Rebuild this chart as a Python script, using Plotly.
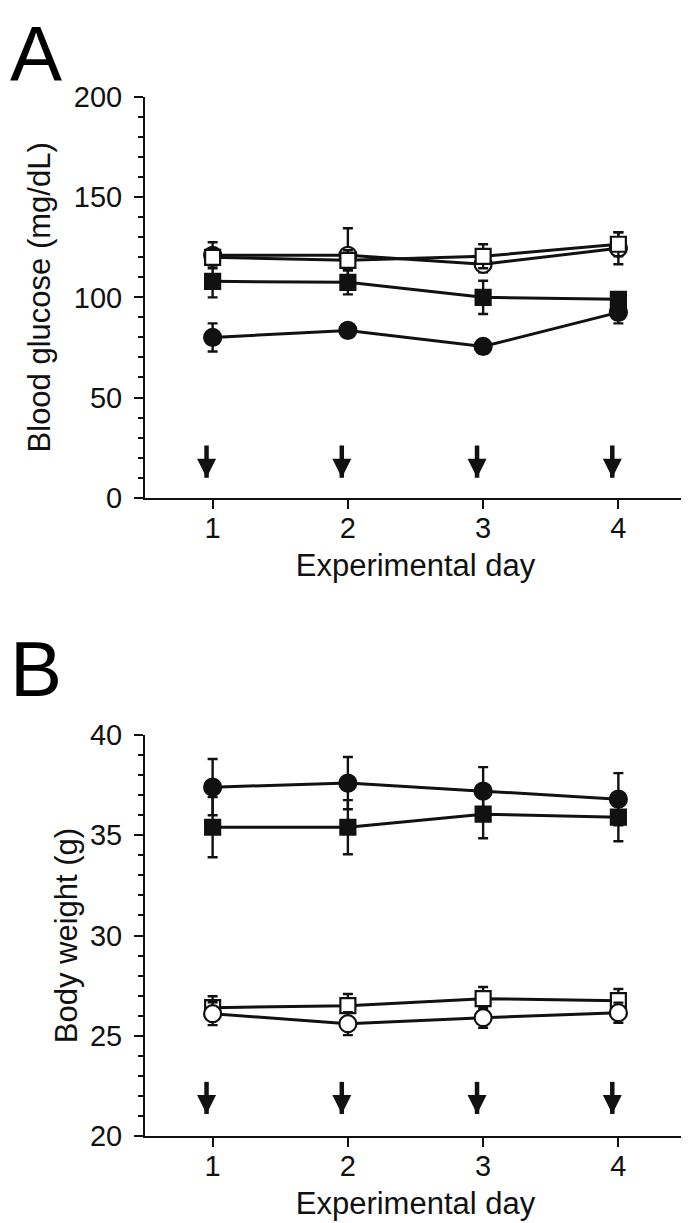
import plotly.graph_objects as go
from plotly.subplots import make_subplots

# experimental days
days = [1, 2, 3, 4]

# A - blood glucose (mg/dL), mean and SE
glu_filled_circle = [80, 83.5, 75.5, 92.5]
glu_filled_circle_se = [7, 3, 3.5, 5.5]
glu_filled_square = [108, 107.5, 100, 99]
glu_filled_square_se = [8, 6, 8.3, 2]
glu_open_circle = [121, 121, 116.5, 124.5]
glu_open_circle_se = [6.5, 13.5, 4, 8]
glu_open_square = [120, 118.5, 120.5, 126.5]
glu_open_square_se = [4, 5, 6, 6]

# B - body weight (g), mean and SE
bw_filled_circle = [37.4, 37.6, 37.2, 36.8]
bw_filled_circle_se = [1.4, 1.3, 1.2, 1.3]
bw_filled_square = [35.4, 35.4, 36.05, 35.9]
bw_filled_square_se = [1.5, 1.35, 1.2, 1.2]
bw_open_square = [26.4, 26.5, 26.85, 26.75]
bw_open_square_se = [0.57, 0.58, 0.58, 0.58]
bw_open_circle = [26.1, 25.6, 25.9, 26.15]
bw_open_circle_se = [0.57, 0.57, 0.5, 0.5]

# injection arrows (day, top of shaft, tip)
arrow_days = [0.955, 1.955, 2.955, 3.955]
glu_arrow_top = [26, 26, 26, 26]
glu_arrow_tip = [10, 10, 10, 10]
bw_arrow_top = [22.7, 22.7, 22.7, 22.7]
bw_arrow_tip = [21.1, 21.1, 21.1, 21.1]

INK = "#111111"
FONT = "Liberation Sans, Arial, sans-serif"

fig = make_subplots(rows=2, cols=1)


def add_series(row, y, se, symbol, filled):
    fig.add_trace(go.Scatter(
        x=days, y=y,
        mode="lines+markers",
        line=dict(color=INK, width=3),
        marker=dict(symbol=symbol, size=17 if "circle" in symbol else 15,
                    color=INK if filled else "white",
                    line=dict(color=INK, width=2.2)),
        error_y=dict(type="data", array=se, visible=True,
                     color=INK, thickness=2.4, width=5),
        showlegend=False), row=row, col=1)


def add_arrows(row, top, tip):
    xs, ys = [], []
    for d, t0, t1 in zip(arrow_days, top, tip):
        xs += [d, d, None]
        ys += [t0, t1, None]
    fig.add_trace(go.Scatter(
        x=xs, y=ys, mode="lines",
        line=dict(color=INK, width=4.5),
        showlegend=False, hoverinfo="skip"), row=row, col=1)
    fig.add_trace(go.Scatter(
        x=arrow_days, y=tip, mode="markers",
        marker=dict(symbol="arrow-down", size=19, color=INK,
                    line=dict(width=0)),
        showlegend=False, hoverinfo="skip"), row=row, col=1)


add_arrows(1, glu_arrow_top, glu_arrow_tip)
add_series(1, glu_filled_circle, glu_filled_circle_se, "circle", True)
add_series(1, glu_filled_square, glu_filled_square_se, "square", True)
add_series(1, glu_open_circle, glu_open_circle_se, "circle", False)
add_series(1, glu_open_square, glu_open_square_se, "square", False)

add_arrows(2, bw_arrow_top, bw_arrow_tip)
add_series(2, bw_filled_circle, bw_filled_circle_se, "circle", True)
add_series(2, bw_filled_square, bw_filled_square_se, "square", True)
add_series(2, bw_open_square, bw_open_square_se, "square", False)
add_series(2, bw_open_circle, bw_open_circle_se, "circle", False)

# page has an 8px body margin, so the figure is a bit smaller and shifted
W = 681.0
H = 1215.0
OFF = 8
xdom = [(145 - OFF) / W, (686 - OFF) / W]

fig.update_xaxes(
    range=[0.5, 4.5], tickvals=days, ticks="outside", ticklen=9,
    tickwidth=2, tickcolor=INK, showline=True, linecolor=INK, linewidth=2,
    showgrid=False, zeroline=False, domain=xdom, automargin=False,
    ticklabelstandoff=-6,
    tickfont=dict(size=29, color=INK, family=FONT),
    title=dict(text="Experimental day", standoff=12,
               font=dict(size=31, color=INK, family=FONT)),
)

fig.update_yaxes(
    ticks="outside", ticklen=9, tickwidth=2, tickcolor=INK,
    showline=True, linecolor=INK, linewidth=2, showgrid=False,
    zeroline=False, ticklabelstandoff=6, automargin=False,
    tickfont=dict(size=29, color=INK, family=FONT),
)
fig.update_yaxes(
    range=[0, 200], tickvals=[0, 50, 100, 150, 200],
    minor=dict(dtick=10, ticks="outside", ticklen=5, tickwidth=2,
               tickcolor=INK, showgrid=False),
    domain=[1 - (497.7 - OFF) / H, 1 - (97 - OFF) / H],
    title=dict(text="Blood glucose (mg/dL)", standoff=14,
               font=dict(size=31, color=INK, family=FONT)),
    row=1, col=1)
fig.update_yaxes(
    range=[20, 40], tickvals=[20, 25, 30, 35, 40],
    minor=dict(dtick=1, ticks="outside", ticklen=5, tickwidth=2,
               tickcolor=INK, showgrid=False),
    domain=[1 - (1136 - OFF) / H, 1 - (735 - OFF) / H],
    title=dict(text="Body weight (g)", standoff=3,
               font=dict(size=31, color=INK, family=FONT)),
    row=2, col=1)

# panel letters
fig.add_annotation(text="A", x=0, y=1, xref="paper",
                   yref="paper", xanchor="left", yanchor="top",
                   showarrow=False,
                   font=dict(size=78, color="black", family=FONT))
fig.add_annotation(text="B", x=0, y=1 - 615 / H, xref="paper",
                   yref="paper", xanchor="left", yanchor="top",
                   showarrow=False,
                   font=dict(size=78, color="black", family=FONT))

fig.update_layout(
    width=681, height=1215,
    margin=dict(l=0, r=0, t=0, b=0, autoexpand=False),
    paper_bgcolor="white", plot_bgcolor="white",
    font=dict(family=FONT, color=INK),
)

fig.write_html("out.html")
